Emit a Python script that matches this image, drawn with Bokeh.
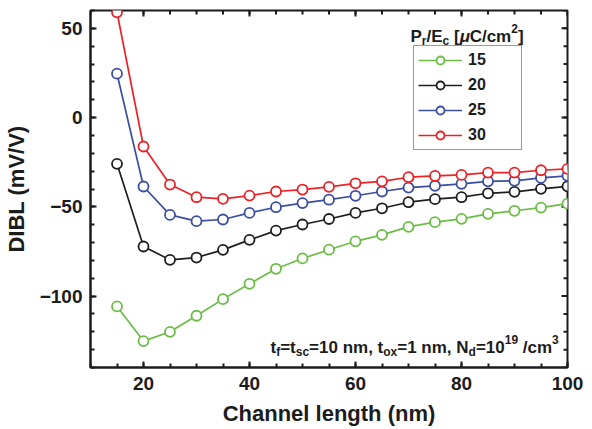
from bokeh.plotting import figure
from bokeh.models import Range1d, FixedTicker, Legend, LegendItem, Label
from bokeh.embed import file_html
from bokeh.resources import INLINE

# Channel length sweep (nm) and DIBL (mV/V) for each Pr/Ec value
channel_length = [15, 20, 25, 30, 35, 40, 45, 50, 55, 60, 65, 70, 75, 80, 85, 90, 95, 100]
dibl_15 = [-105.8, -125.2, -120.0, -111.0, -101.7, -93.1, -84.7, -78.9, -74.0,
           -69.3, -65.7, -61.2, -58.6, -56.7, -53.9, -52.2, -50.4, -48.2]
dibl_20 = [-25.9, -72.2, -79.7, -78.4, -74.1, -68.5, -63.3, -59.9, -56.8,
           -53.4, -50.8, -47.4, -45.7, -44.6, -42.4, -41.6, -39.9, -38.5]
dibl_25 = [24.6, -38.6, -54.5, -58.0, -57.1, -53.4, -50.2, -47.9, -46.0,
           -43.8, -41.4, -39.2, -38.2, -37.1, -35.7, -35.4, -33.8, -32.6]
dibl_30 = [59.0, -16.2, -37.5, -44.6, -45.5, -43.7, -41.4, -40.3, -38.8,
           -36.8, -35.7, -33.4, -32.7, -32.1, -30.8, -30.8, -29.5, -28.7]

series_labels = ["15", "20", "25", "30"]
series_values = [dibl_15, dibl_20, dibl_25, dibl_30]
series_colors = ["#6cbd45", "#1f1f1f", "#3b4ea2", "#ec2227"]

x_major = [20, 40, 60, 80, 100]
x_minor = list(range(10, 101, 5))
y_major = [-100, -50, 0, 50]
y_minor = list(range(-140, 61, 10))

FONT = "Liberation Sans"
INK = "#1c1c1c"

W, H = 592, 429
BORDER_L, BORDER_R, BORDER_T, BORDER_B = 89, 25, 10, 62
X0, X1, Y0, Y1 = 10, 100, -140, 60

p = figure(width=W, height=H, output_backend="svg", toolbar_location=None,
           x_range=Range1d(X0, X1), y_range=Range1d(Y0, Y1),
           x_axis_label="Channel length (nm)", y_axis_label="DIBL (mV/V)")
p.min_border_left = BORDER_L
p.min_border_right = BORDER_R
p.min_border_top = BORDER_T
p.min_border_bottom = BORDER_B
p.grid.visible = False
p.outline_line_color = INK
p.outline_line_width = 2
p.background_fill_color = "white"
p.border_fill_color = "white"

p.xaxis.ticker = FixedTicker(ticks=x_major, minor_ticks=x_minor)
p.yaxis.ticker = FixedTicker(ticks=y_major, minor_ticks=y_minor)

MAJOR_IN, MINOR_IN = 6, 4

for ax in list(p.xaxis) + list(p.yaxis):
    ax.axis_line_color = INK
    ax.axis_line_width = 2
    ax.major_tick_line_color = INK
    ax.minor_tick_line_color = INK
    ax.major_tick_line_width = 2
    ax.minor_tick_line_width = 2
    ax.major_tick_in = MAJOR_IN
    ax.major_tick_out = 0
    ax.minor_tick_in = MINOR_IN
    ax.minor_tick_out = 0
    ax.major_label_text_font = FONT
    ax.major_label_text_font_style = "bold"
    ax.major_label_text_font_size = "19px"
    ax.major_label_text_color = INK
    ax.axis_label_text_font = FONT
    ax.axis_label_text_font_style = "bold"
    ax.axis_label_text_font_size = "22px"
    ax.axis_label_text_color = INK
for ax in p.xaxis:
    ax.major_label_standoff = 9
    ax.axis_label_standoff = 8
for ax in p.yaxis:
    ax.major_label_standoff = 8
    ax.axis_label_standoff = 8

# Mirrored inward ticks on the top and right edges of the box
px_per_x = (W - BORDER_L - BORDER_R) / (X1 - X0)
px_per_y = (H - BORDER_T - BORDER_B) / (Y1 - Y0)
for ticks, length in ((x_minor, MINOR_IN), (x_major, MAJOR_IN)):
    p.segment(x0=ticks, y0=[Y1] * len(ticks), x1=ticks,
              y1=[Y1 - length / px_per_y] * len(ticks),
              line_color=INK, line_width=2)
for ticks, length in ((y_minor, MINOR_IN), (y_major, MAJOR_IN)):
    p.segment(x0=[X1] * len(ticks), y0=ticks,
              x1=[X1 - length / px_per_x] * len(ticks), y1=ticks,
              line_color=INK, line_width=2)

items = []
for label, values, color in zip(series_labels, series_values, series_colors):
    ln = p.line(channel_length, values, line_color=color, line_width=1.7)
    mk = p.scatter(channel_length, values, marker="circle", size=10,
                   line_color=color, line_width=1.8, fill_color="white")
    items.append(LegendItem(label=label, renderers=[ln, mk]))

legend = Legend(items=items, location=(323, 217))
legend.label_text_font = FONT
legend.label_text_font_style = "bold"
legend.label_text_font_size = "16px"
legend.label_text_color = INK
legend.glyph_width = 44
legend.glyph_height = 20
legend.label_height = 20
legend.label_width = 49
legend.label_standoff = 6
legend.spacing = 5
legend.padding = 4
legend.margin = 0
legend.border_line_color = "#333333"
legend.border_line_width = 1
legend.background_fill_color = "white"
legend.background_fill_alpha = 1
p.add_layout(legend, "center")

# Approximate advance widths (per 1000 em) for a bold Arial-metric face
WIDTHS = {" ": 278, "(": 333, ")": 333, ",": 278, "-": 333, ".": 278, "/": 278,
          "=": 584, "[": 333, "]": 333, "C": 722, "E": 667, "N": 722, "P": 667,
          "c": 556, "d": 611, "f": 333, "m": 889, "n": 611, "o": 611, "r": 389,
          "s": 556, "t": 333, "x": 556, "μ": 590}


def run_width(s, size):
    return sum(WIDTHS.get(ch, 556) for ch in s) * size / 1000.0


def place_runs(runs, sx, sy, size, small):
    """Lay out a line of text made of normal, subscript and superscript runs."""
    x = sx
    for run in runs:
        txt, shift = run[0], run[1]
        style = run[2] if len(run) > 2 else "bold"
        fs = size if shift == 0 else small
        dy = {0: 0, -1: -4, 1: 8}[shift]
        lead = len(txt) - len(txt.lstrip(" "))
        body = txt.strip(" ")
        if body:
            p.add_layout(Label(x=x + run_width(" " * lead, fs), y=sy + dy,
                               x_units="screen", y_units="screen", text=body,
                               text_font=FONT, text_font_style=style,
                               text_font_size=f"{fs}px", text_color=INK,
                               text_baseline="alphabetic", text_align="left"))
        x += run_width(txt, fs)


# Legend heading: Pr/Ec [μC/cm²]
place_runs([("P", 0), ("r", -1), ("/E", 0), ("c", -1), (" [", 0),
            ("μ", 0, "bold italic"), ("C/cm", 0), ("2", 1), ("]", 0)],
           sx=320, sy=331, size=17, small=12)

# Device parameters
place_runs([("t", 0), ("f", -1), ("=t", 0), ("sc", -1), ("=10 nm, t", 0),
            ("ox", -1), ("=1 nm, N", 0), ("d", -1), ("=10", 0), ("19", 1),
            (" /cm", 0), ("3", 1)],
           sx=180, sy=20, size=17, small=12)

open("out.html", "w").write(file_html(p, INLINE))
